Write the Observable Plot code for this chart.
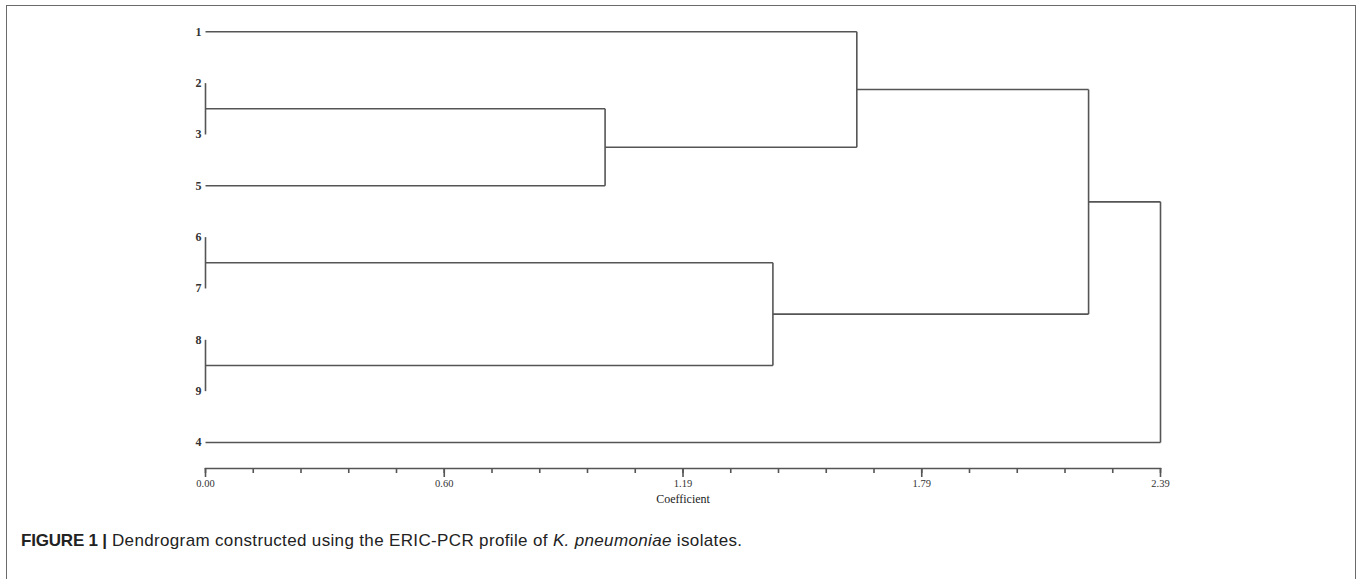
<!DOCTYPE html>
<html>
<head>
<meta charset="utf-8">
<script src="https://cdn.jsdelivr.net/npm/d3@7"></script>
<script src="https://cdn.jsdelivr.net/npm/@observablehq/plot@0.6"></script>
<style>
  html, body { margin: 0; padding: 0; background: #fff; }
  body { width: 1358px; height: 579px; position: relative; overflow: hidden; }
  #frame { position: absolute; left: 6px; top: 5px; width: 1350px; height: 600px;
           border: 1.5px solid #6a6a6a; border-bottom: none; box-sizing: border-box; }
  #chart { position: absolute; left: 0; top: 0; }
  #caption { position: absolute; left: 21px; top: 531px; font-family: "Liberation Sans", Arial, sans-serif;
             font-size: 17px; letter-spacing: 0.35px; color: #222; white-space: nowrap; }
  #caption b { letter-spacing: -0.2px; }
</style>
</head>
<body>
<div id="frame"></div>
<div id="chart"></div>
<div id="caption"><b>FIGURE 1 |</b> Dendrogram constructed using the ERIC-PCR profile of <i>K. pneumoniae</i> isolates.</div>
<script>
// Leaf order (top to bottom)
const leaves = ["1", "2", "3", "5", "6", "7", "8", "9", "4"];
// Merge steps: children are leaf indices (0-8) or earlier merges (9 + step)
const mergeA = [1, 4, 6, 9, 10, 0, 14, 15];
const mergeB = [2, 5, 7, 3, 11, 12, 13, 8];
const mergeHeight = [0.00, 0.00, 0.00, 1.00, 1.42, 1.63, 2.21, 2.39];
// Axis
const axisMax = 2.39;
const majorTicks = [0, 0.5975, 1.195, 1.7925, 2.39];
const majorTickLabels = ["0.00", "0.60", "1.19", "1.79", "2.39"];
const minorTickCount = 20;
const axisTitle = "Coefficient";

// Build node positions
const nodeY = leaves.map((d, i) => i);
const nodeX = leaves.map(() => 0);
mergeA.forEach((a, k) => {
  const b = mergeB[k];
  nodeY.push((nodeY[a] + nodeY[b]) / 2);
  nodeX.push(mergeHeight[k]);
});
const segs = [];
mergeA.forEach((a, k) => {
  const b = mergeB[k], h = mergeHeight[k];
  segs.push({x1: h, y1: nodeY[a], x2: h, y2: nodeY[b]});
  segs.push({x1: nodeX[a], y1: nodeY[a], x2: h, y2: nodeY[a]});
  segs.push({x1: nodeX[b], y1: nodeY[b], x2: h, y2: nodeY[b]});
});
const minorTicks = d3.range(minorTickCount + 1).map(i => i * axisMax / minorTickCount);

const H = 520, yBottom = 468;
const chart = Plot.plot({
  width: 1358,
  height: H,
  marginLeft: 205,
  marginRight: 198,
  marginTop: 31.3,
  marginBottom: H - yBottom,
  x: {domain: [0, axisMax]},
  y: {domain: [0, 8.507], range: [31.3, yBottom]},
  style: {fontFamily: "'Liberation Serif', 'DejaVu Serif', serif", color: "#333", background: "transparent"},
  marks: [
    Plot.link(segs, {x1: "x1", y1: "y1", x2: "x2", y2: "y2", stroke: "#555", strokeWidth: 1.6}),
    Plot.frame({anchor: "bottom", stroke: "#555", strokeWidth: 1.6}),
    Plot.axisX(minorTicks, {anchor: "bottom", tickSize: 5, text: null, stroke: "#555", strokeWidth: 1.6, label: null}),
    Plot.axisX(majorTicks, {anchor: "bottom", tickSize: 9, tickPadding: 2, stroke: "#555", strokeWidth: 1.6,
      tickFormat: (d, i) => majorTickLabels[i], fontSize: 10.5, fill: "#333", label: null}),
    Plot.text([axisTitle], {frameAnchor: "bottom", dy: 34, fontSize: 12, fill: "#222"}),
    Plot.axisY(d3.range(leaves.length), {anchor: "left", tickSize: 0, tickPadding: 4,
      tickFormat: i => leaves[i], fontSize: 12, fontWeight: 600, fill: "#333", label: null})
  ]
});
document.getElementById("chart").appendChild(chart);
</script>
</body>
</html>
